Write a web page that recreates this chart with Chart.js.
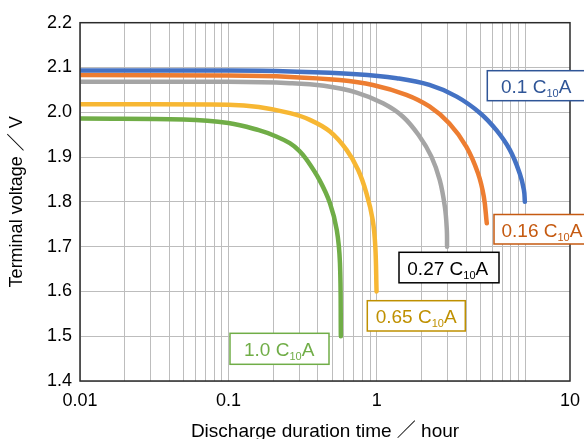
<!DOCTYPE html>
<html>
<head>
<meta charset="utf-8">
<script src="https://cdn.jsdelivr.net/npm/chart.js@4.4.1/dist/chart.umd.min.js"></script>
<style>
  html, body { margin: 0; padding: 0; background: #fff; overflow: hidden; }
  #wrap { width: 584px; height: 439px; }
</style>
</head>
<body>
<div id="wrap"><canvas id="dischargeChart"></canvas></div>
<script>
// Discharge curves: time (hour) vs terminal voltage (V), one pair per current
const rates = ['0.1', '0.16', '0.27', '0.65', '1.0'];

const time01 = [0.01, 0.1, 0.26, 0.73, 1.36, 2.26, 3.45, 4.97, 6.39, 7.87, 9.16, 9.78, 9.93];
const volt01 = [2.093, 2.093, 2.091, 2.085, 2.076, 2.061, 2.035, 1.998, 1.960, 1.916, 1.864, 1.827, 1.800];

const time016 = [0.01, 0.1, 0.26, 0.56, 0.94, 1.58, 2.26, 3.08, 4.01, 4.8, 5.25, 5.5];
const volt016 = [2.083, 2.082, 2.079, 2.072, 2.061, 2.039, 2.013, 1.975, 1.923, 1.864, 1.812, 1.752];

const time027 = [0.01, 0.1, 0.26, 0.44, 0.73, 1.10, 1.50, 1.94, 2.33, 2.65, 2.87, 2.96, 2.97];
const volt027 = [2.068, 2.068, 2.065, 2.059, 2.044, 2.020, 1.990, 1.946, 1.901, 1.849, 1.789, 1.737, 1.700];

const time065 = [0.01, 0.1, 0.16, 0.26, 0.354, 0.483, 0.625, 0.748, 0.851, 0.937, 0.976, 0.995];
const volt065 = [2.018, 2.017, 2.012, 1.998, 1.983, 1.957, 1.916, 1.871, 1.819, 1.760, 1.700, 1.600];

const time10 = [0.01, 0.05, 0.1, 0.16, 0.21, 0.259, 0.3, 0.335, 0.41, 0.483, 0.537, 0.564, 0.572];
const volt10 = [1.986, 1.984, 1.976, 1.960, 1.946, 1.931, 1.914, 1.895, 1.849, 1.797, 1.737, 1.663, 1.500];

// x axis: labelled ticks (the "10" label sits on the right edge of the plot)
const xLabelValues = [0.01, 0.1, 1, 20];
const xLabelTexts = ['0.01', '0.1', '1', '10'];
const yMin = 1.4, yMax = 2.2, yStep = 0.1;

const lineColors = ['#4472C4', '#ED7D31', '#A5A5A5', '#F7B733', '#70AD47'];
const textColors = ['#2F5597', '#C55A11', '#000000', '#BF9000', '#70AD47'];

const FONT = '"Liberation Sans", Arial, "Noto Sans CJK JP", sans-serif';

function toPoints(ts, vs) {
    return ts.map((t, i) => ({ x: t, y: vs[i] }));
}

const seriesData = [
    toPoints(time01, volt01),
    toPoints(time016, volt016),
    toPoints(time027, volt027),
    toPoints(time065, volt065),
    toPoints(time10, volt10)
];

// gridline positions: 1..9 in each decade plus 10, then the edge
const xGridValues = [];
[0.01, 0.1, 1].forEach(d => {
    for (let k = 1; k <= 9; k++) xGridValues.push(+(d * k).toPrecision(3));
});
xGridValues.push(10, 20);

// label boxes (canvas pixels)
const boxes = [
    { x: 487.3, y: 70.7, w: 130, h: 30, tx: 502 },
    { x: 494, y: 214.5, w: 130, h: 29.5, tx: 502.5 },
    { x: 399, y: 252.3, w: 100, h: 30.5, tx: 408.3 },
    { x: 367.3, y: 300.7, w: 98, h: 30.3, tx: 376.7 },
    { x: 230, y: 333.3, w: 99, h: 31, tx: 245 }
];

const framePlugin = {
    id: 'frame',
    afterDatasetsDraw(chart) {
        const { ctx, chartArea: a } = chart;
        ctx.save();
        ctx.strokeStyle = '#2b2b2b';
        ctx.lineWidth = 1.5;
        ctx.strokeRect(a.left, a.top, a.right - a.left, a.bottom - a.top);
        ctx.restore();
    }
};

const boxLabelPlugin = {
    id: 'boxLabels',
    afterDraw(chart) {
        const ctx = chart.ctx;
        ctx.save();
        boxes.forEach((b, i) => {
            ctx.fillStyle = '#fff';
            ctx.fillRect(b.x, b.y, b.w, b.h);
            ctx.strokeStyle = textColors[i];
            ctx.lineWidth = 1.5;
            ctx.strokeRect(b.x, b.y, b.w, b.h);

            const base = b.y + b.h / 2 + 0.8 + 6.7;
            let x = b.tx - 1;
            ctx.fillStyle = textColors[i];
            ctx.textBaseline = 'alphabetic';
            ctx.textAlign = 'left';
            ctx.font = '19px ' + FONT;
            const main = rates[i] + ' C';
            ctx.fillText(main, x, base);
            x += ctx.measureText(main).width;
            ctx.font = '11px ' + FONT;
            ctx.fillText('10', x, base + 3.8);
            x += ctx.measureText('10').width;
            ctx.font = '19px ' + FONT;
            ctx.fillText('A', x, base);
        });
        ctx.restore();
    }
};

const ctx = document.getElementById('dischargeChart');

new Chart(ctx.getContext('2d'), {
    type: 'line',
    data: {
        datasets: seriesData.map((pts, i) => ({
            label: rates[i] + ' C10A',
            data: pts,
            borderColor: lineColors[i],
            borderWidth: 4.5,
            borderCapStyle: 'round',
            borderJoinStyle: 'round',
            pointRadius: 0,
            fill: false,
            tension: 0.4
        }))
    },
    options: {
        responsive: true,
        maintainAspectRatio: false,
        animation: false,
        devicePixelRatio: 1,
        layout: { padding: { left: 0, right: 14, top: 22.7, bottom: 0 } },
        plugins: {
            legend: { display: false },
            tooltip: { enabled: false }
        },
        scales: {
            x: {
                type: 'logarithmic',
                min: 0.01,
                max: 20,
                afterBuildTicks: (scale) => {
                    scale.ticks = xGridValues.map(v => ({ value: v }));
                },
                afterFit: (scale) => {
                    scale.height = 58;
                    scale.paddingLeft = 0;
                    scale.paddingRight = 0;
                },
                border: { display: false },
                grid: {
                    drawTicks: false,
                    lineWidth: 1,
                    color: (c) => (c.tick && c.tick.value === 20) ? 'rgba(0,0,0,0)' : '#BDBDBD'
                },
                ticks: {
                    autoSkip: false,
                    maxRotation: 0,
                    padding: 9,
                    color: '#000',
                    font: { family: FONT, size: 18 },
                    callback: (value) => {
                        const idx = xLabelValues.findIndex(v => Math.abs(v - value) < 1e-9);
                        return idx >= 0 ? xLabelTexts[idx] : '';
                    }
                },
                title: {
                    display: true,
                    text: 'Discharge duration time ／ hour',
                    color: '#000',
                    font: { family: FONT, size: 19, lineHeight: 0.77 },
                    padding: 0
                }
            },
            y: {
                min: yMin,
                max: yMax,
                afterFit: (scale) => { scale.width = 80; },
                border: { display: false },
                grid: { drawTicks: false, color: '#BDBDBD', lineWidth: 1 },
                ticks: {
                    stepSize: yStep,
                    padding: 8,
                    color: '#000',
                    font: { family: FONT, size: 18 },
                    callback: (value) => value.toFixed(1)
                },
                title: {
                    display: true,
                    text: 'Terminal voltage ／ V',
                    color: '#000',
                    font: { family: FONT, size: 18, lineHeight: 1.2 },
                    padding: { top: 5.9, bottom: 0 }
                }
            }
        }
    },
    plugins: [framePlugin, boxLabelPlugin]
});
</script>
</body>
</html>
